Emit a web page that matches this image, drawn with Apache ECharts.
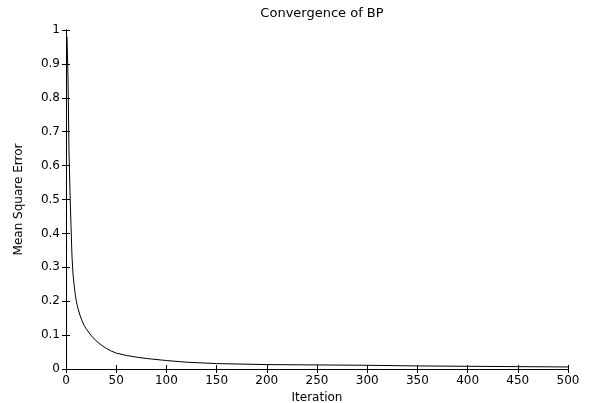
<!DOCTYPE html>
<html>
<head>
<meta charset="utf-8">
<script src="https://cdn.jsdelivr.net/npm/echarts@6/dist/echarts.min.js"></script>
<style>
  html, body { margin: 0; padding: 0; background: #fff; }
  #chart { width: 589px; height: 403px; }
</style>
</head>
<body>
<div id="chart"></div>
<script>
// Training curve of a back-propagation network: MSE per iteration
const iterations = [1, 2, 3, 4, 5, 6, 7, 8, 9, 10, 11, 12, 14, 16, 18, 20, 25, 30, 35, 40, 45, 50, 60, 70, 80, 100, 120, 150, 200, 250, 300, 350, 400, 450, 500];
const mse = [0.98, 0.86, 0.64, 0.52, 0.42, 0.33, 0.28, 0.25, 0.225, 0.205, 0.19, 0.178, 0.158, 0.142, 0.129, 0.119, 0.099, 0.083, 0.071, 0.061, 0.053, 0.047, 0.040, 0.035, 0.031, 0.025, 0.020, 0.016, 0.013, 0.012, 0.011, 0.009, 0.008, 0.007, 0.006];

const xTicks = { min: 0, max: 500, interval: 50 };
const yTicks = { min: 0, max: 1, interval: 0.1 };

const font = { fontFamily: 'DejaVu Sans, sans-serif', fontSize: 12, color: '#000' };
const axisLine = { show: true, lineStyle: { color: '#000', width: 1 } };
const tickIn = { show: true, inside: true, length: 4, lineStyle: { color: '#000' } };

const chart = echarts.init(document.getElementById('chart'), null, { renderer: 'canvas' });
chart.setOption({
  animation: false,
  backgroundColor: '#fff',
  title: {
    text: 'Convergence of BP',
    left: 317, top: 2, textAlign: 'center',
    textStyle: { fontFamily: font.fontFamily, fontSize: 13, fontWeight: 'normal', color: '#000' }
  },
  grid: { left: 66, right: 21, top: 30, bottom: 34, containLabel: false, outerBoundsMode: 'none' },
  xAxis: [
    {
      type: 'value', position: 'bottom', ...xTicks,
      name: 'Iteration', nameLocation: 'middle', nameGap: 21,
      nameTextStyle: font,
      axisLine, axisTick: tickIn, splitLine: { show: false },
      axisLabel: { ...font, margin: 6 }
    },
    {
      type: 'value', position: 'top', ...xTicks,
      axisLine, axisTick: tickIn, splitLine: { show: false },
      axisLabel: { show: false }
    }
  ],
  yAxis: [
    {
      type: 'value', position: 'left', ...yTicks,
      name: 'Mean Square Error', nameLocation: 'middle', nameGap: 41,
      nameTextStyle: font,
      axisLine, axisTick: tickIn, splitLine: { show: false },
      axisLabel: { ...font, margin: 6, formatter: v => String(Math.round(v * 10) / 10) }
    },
    {
      type: 'value', position: 'right', ...yTicks,
      axisLine, axisTick: tickIn, splitLine: { show: false },
      axisLabel: { show: false }
    }
  ],
  series: [{
    type: 'line',
    data: iterations.map((it, i) => [it, mse[i]]),
    showSymbol: false,
    smooth: false,
    lineStyle: { color: '#000', width: 1 }
  }]
});
</script>
</body>
</html>
